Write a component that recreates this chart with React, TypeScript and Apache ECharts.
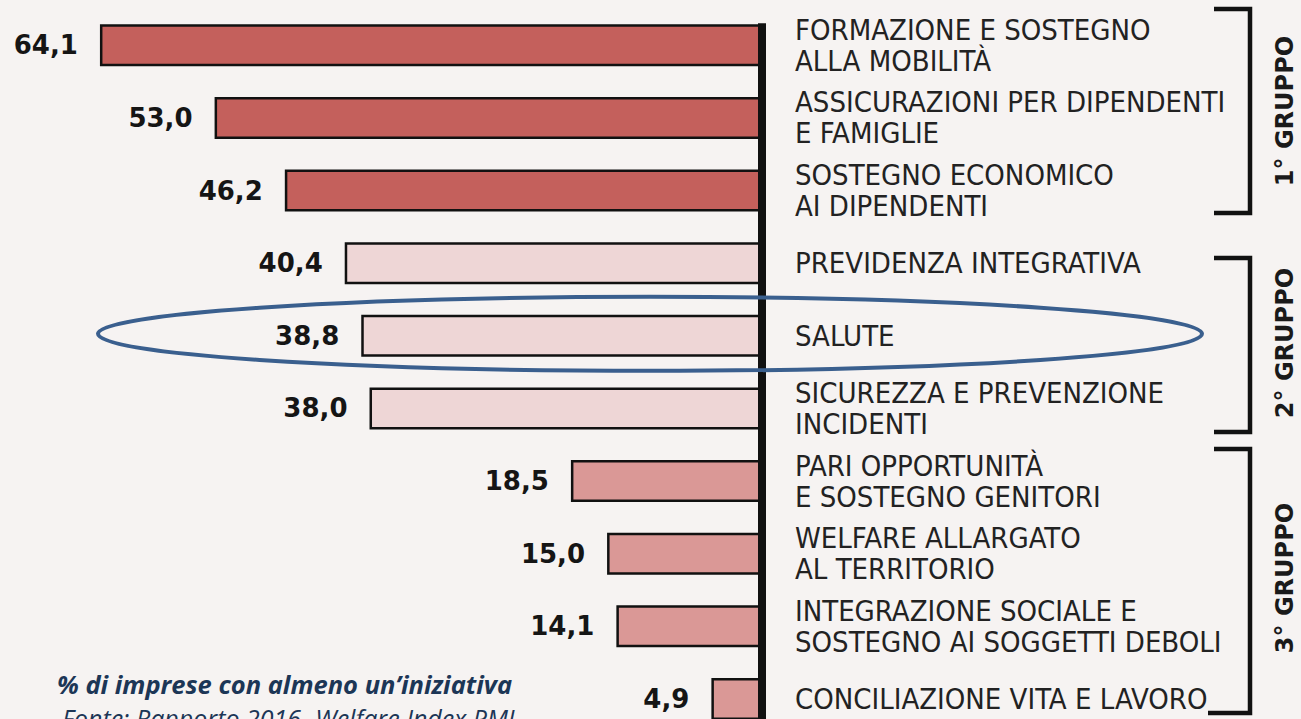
import React, { useEffect, useRef } from "react";
import * as echarts from "echarts";

const categories = [
  "FORMAZIONE E SOSTEGNO\nALLA MOBILITÀ",
  "ASSICURAZIONI PER DIPENDENTI\nE FAMIGLIE",
  "SOSTEGNO ECONOMICO\nAI DIPENDENTI",
  "PREVIDENZA INTEGRATIVA",
  "SALUTE",
  "SICUREZZA E PREVENZIONE\nINCIDENTI",
  "PARI OPPORTUNITÀ\nE SOSTEGNO GENITORI",
  "WELFARE ALLARGATO\nAL TERRITORIO",
  "INTEGRAZIONE SOCIALE E\nSOSTEGNO AI SOGGETTI DEBOLI",
  "CONCILIAZIONE VITA E LAVORO",
];
const values = [64.1, 53.0, 46.2, 40.4, 38.8, 38.0, 18.5, 15.0, 14.1, 4.9];
const groupOf = [0, 0, 0, 1, 1, 1, 2, 2, 2, 2];
const groupLabels = ["1° GRUPPO", "2° GRUPPO", "3° GRUPPO"];
const highlighted = "SALUTE";
const noteTitle = "% di imprese con almeno un’iniziativa";
const noteSource = "Fonte: Rapporto 2016- Welfare Index PMI";

const groupColors = ["#c4605c", "#eed6d6", "#da9896"];
const W = 1301;
const H = 760;
const VISIBLE_H = 719;

export default function App() {
  const ref = useRef<HTMLDivElement>(null);
  useEffect(() => {
    document.body.style.margin = "0";
    document.body.style.overflow = "hidden";
    document.documentElement.style.overflow = "hidden";
    const chart = echarts.init(ref.current!, null, { renderer: "svg" });
    chart.setOption({
      animation: false,
      backgroundColor: "#f6f3f2",
      grid: { left: 39, right: 539, top: 9, bottom: 24.7, containLabel: false },
      xAxis: { type: "value", inverse: true, min: 0, max: 70, show: false },
      yAxis: {
        type: "category",
        data: categories,
        inverse: true,
        position: "right",
        axisLine: { show: false },
        axisTick: { show: false },
        splitLine: { show: false },
        axisLabel: {
          align: "left",
          margin: 33,
          fontFamily: "DejaVu Sans Condensed, DejaVu Sans",
          fontSize: 29,
          lineHeight: 31,
          color: "#222222",
        },
      },
      series: [
        {
          type: "bar",
          data: values.map((v, i) => ({
            value: v,
            itemStyle: { color: groupColors[groupOf[i]] },
          })),
          barWidth: 42,
          itemStyle: { borderColor: "#111111", borderWidth: 2.5 },
          label: {
            show: true,
            position: "left",
            distance: 22,
            formatter: (p: any) => Number(p.value).toFixed(1).replace(".", ","),
            fontFamily: "DejaVu Sans",
            fontWeight: "bold",
            fontSize: 26,
            color: "#151515",
          },
        },
      ],
    });

    const pTop = chart.convertToPixel({ seriesIndex: 0 }, [0, 0]) as number[];
    const pSal = chart.convertToPixel(
      { seriesIndex: 0 },
      [0, categories.indexOf(highlighted)]
    ) as number[];
    const lineTop = pTop[1] - 22;

    const brackets = [
      [[1214, 9], [1250, 9], [1250, 213], [1214, 213]],
      [[1214, 258], [1250, 258], [1250, 432], [1214, 432]],
      [[1214, 449], [1250, 449], [1250, 713], [1208, 713]],
    ];
    const labelY = [111, 343, 578];

    chart.setOption({
      graphic: [
        {
          type: "rect",
          shape: { x: pTop[0] - 4, y: lineTop, width: 8, height: H - lineTop },
          style: { fill: "#111111" },
          z: 10,
        },
        {
          type: "ellipse",
          shape: { cx: 650, cy: pSal[1] - 2, rx: 552, ry: 37 },
          style: { fill: "none", stroke: "#3a5f8e", lineWidth: 4 },
          z: 20,
        },
        ...brackets.map((pts) => ({
          type: "polyline",
          shape: { points: pts },
          style: { fill: "none", stroke: "#111111", lineWidth: 4.5, lineJoin: "miter" },
          z: 10,
        })),
        ...groupLabels.map((t, i) => ({
          type: "text",
          x: 1285,
          y: labelY[i],
          rotation: Math.PI / 2,
          style: {
            text: t,
            align: "center",
            verticalAlign: "middle",
            fontFamily: "DejaVu Sans",
            fontWeight: "bold",
            fontSize: 24,
            fill: "#1a1a1a",
          },
          z: 10,
        })),
        {
          type: "text",
          x: 57,
          y: 684,
          style: {
            text: noteTitle,
            align: "left",
            verticalAlign: "middle",
            fontFamily: "Open Sans",
            fontStyle: "italic",
            fontWeight: "bold",
            fontSize: 25.5,
            fill: "#1c3656",
          },
          z: 10,
        },
        {
          type: "text",
          x: 62,
          y: 718,
          style: {
            text: noteSource,
            align: "left",
            verticalAlign: "middle",
            fontFamily: "Open Sans",
            fontStyle: "italic",
            fontSize: 25,
            fill: "#1c3656",
          },
          z: 10,
        },
      ],
    });
    return () => chart.dispose();
  }, []);
  return (
    <div style={{ width: W, height: VISIBLE_H, overflow: "hidden" }}>
      <div ref={ref} style={{ width: W, height: H }} />
    </div>
  );
}
